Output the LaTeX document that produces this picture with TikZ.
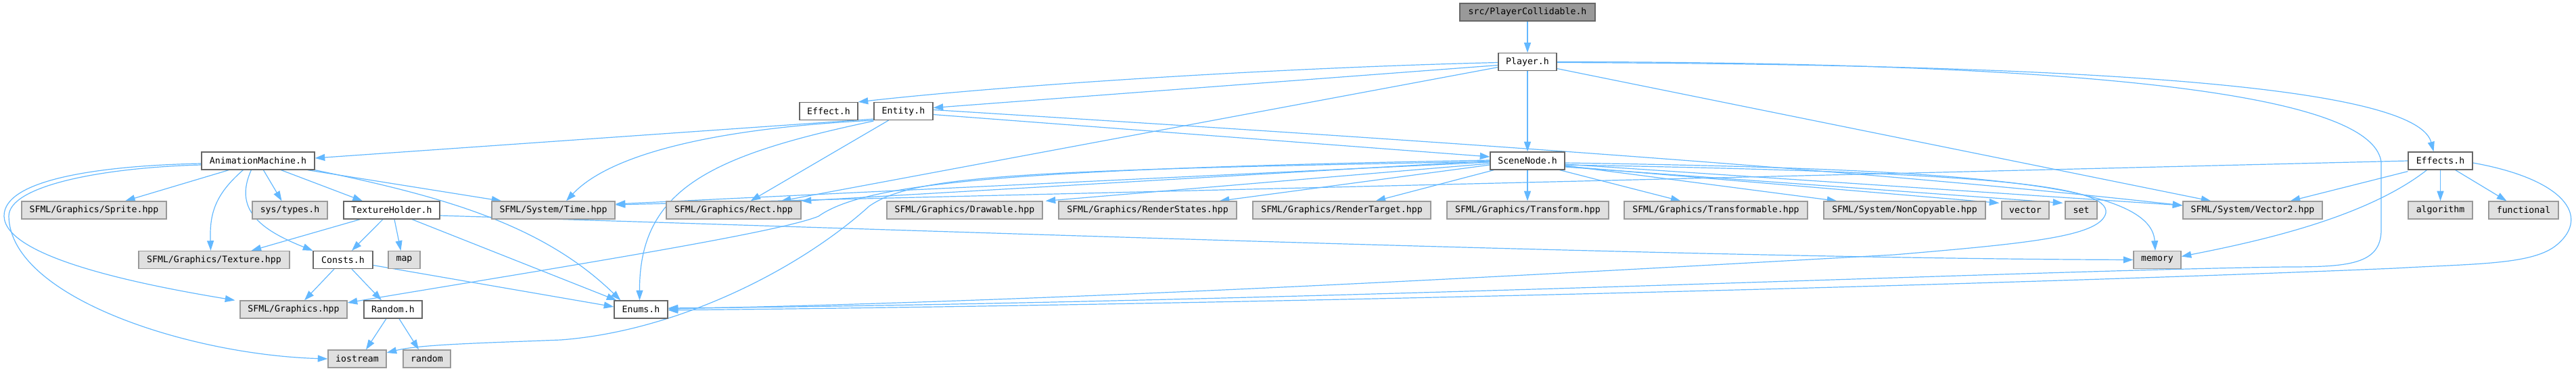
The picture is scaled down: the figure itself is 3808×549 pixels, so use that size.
\documentclass[tikz,border=0pt]{standalone}
\usepackage{fontspec}
\newfontfamily\dvm{DejaVu Sans Mono}
\usetikzlibrary{arrows.meta,calc}
\pgfdeclarelayer{background}
\pgfsetlayers{background,main}
\definecolor{edgec}{HTML}{63B8FF}
\definecolor{wborder}{HTML}{666666}
\definecolor{gfill}{HTML}{E0E0E0}
\definecolor{gborder}{HTML}{999999}
\definecolor{topfill}{HTML}{999999}
\begin{document}
\begin{tikzpicture}[x=0.75pt,y=-0.75pt,
  basebox/.style={rectangle, inner sep=0pt, minimum height=19.5pt, line width=0.9pt,
    font={\dvm\fontsize{9.9}{11}\selectfont}, text=black},
  wbox/.style={basebox, draw=wborder, fill=white},
  gbox/.style={basebox, draw=gborder, fill=gfill},
  topbox/.style={basebox, draw=wborder, fill=topfill},
  dep/.style={draw=edgec, line width=0.9pt, -{Triangle[length=11pt,width=7.5pt]}}]
\useasboundingbox (0,0) rectangle (3808,549);
% nodes
\node[topbox, minimum width=150pt] (pc) at (2258,18) {src/PlayerCollidable.h};
\node[wbox, minimum width=64.5pt] (player) at (2258,91.5) {Player.h};
\node[wbox, minimum width=64.5pt] (effect) at (1225,164.5) {Effect.h};
\node[wbox, minimum width=65.25pt] (entity) at (1335.5,164.5) {Entity.h};
\node[wbox, minimum width=125.25pt] (anim) at (381.5,238) {AnimationMachine.h};
\node[wbox, minimum width=82.5pt] (scenenode) at (2258,238) {SceneNode.h};
\node[wbox, minimum width=71.25pt] (effects) at (3607.5,238) {Effects.h};
\node[gbox, minimum width=160.5pt] (sprite) at (139,311) {SFML/Graphics/Sprite.hpp};
\node[gbox, minimum width=83.25pt] (systypes) at (428.5,311) {sys/types.h};
\node[wbox, minimum width=106.5pt] (texholder) at (579,311) {TextureHolder.h};
\node[gbox, minimum width=136.5pt] (time) at (818,311) {SFML/System/Time.hpp};
\node[gbox, minimum width=149.25pt] (rect) at (1084.5,311) {SFML/Graphics/Rect.hpp};
\node[gbox, minimum width=172.5pt] (drawable) at (1426,311) {SFML/Graphics/Drawable.hpp};
\node[gbox, minimum width=197.25pt] (renderstates) at (1696.5,311) {SFML/Graphics/RenderStates.hpp};
\node[gbox, minimum width=197.25pt] (rendertarget) at (1983.5,311) {SFML/Graphics/RenderTarget.hpp};
\node[gbox, minimum width=179.25pt] (transform) at (2258.5,311) {SFML/Graphics/Transform.hpp};
\node[gbox, minimum width=203.25pt] (transformable) at (2536.5,311) {SFML/Graphics/Transformable.hpp};
\node[gbox, minimum width=179.25pt] (noncopyable) at (2815.5,311) {SFML/System/NonCopyable.hpp};
\node[gbox, minimum width=52.5pt] (vector) at (2994,311) {vector};
\node[gbox, minimum width=35.25pt] (set) at (3076.5,311) {set};
\node[gbox, minimum width=154.5pt] (vector2) at (3330,311) {SFML/System/Vector2.hpp};
\node[gbox, minimum width=71.25pt] (algorithm) at (3607.5,311) {algorithm};
\node[gbox, minimum width=77.25pt] (functional) at (3730.5,311) {functional};
\node[gbox, minimum width=167.25pt] (texture) at (316.5,384.5) {SFML/Graphics/Texture.hpp};
\node[wbox, minimum width=66pt] (consts) at (507,384.5) {Consts.h};
\node[gbox, minimum width=35.25pt] (map) at (597.5,384.5) {map};
\node[gbox, minimum width=52.5pt] (memory) at (3189,384.5) {memory};
\node[gbox, minimum width=118.5pt] (graphics) at (434,458) {SFML/Graphics.hpp};
\node[wbox, minimum width=64.5pt] (randomh) at (581,458) {Random.h};
\node[wbox, minimum width=59.25pt] (enums) at (947.5,458) {Enums.h};
\node[gbox, minimum width=64.5pt] (iostream) at (528,531) {iostream};
\node[gbox, minimum width=52.5pt] (random) at (631,531) {random};
% edges
\begin{pgfonlayer}{background}
\draw[dep] (pc) -- (player);
% Player.h
\draw[dep] ($(player.west)+(0,1)$) .. controls (1900,100) and (1500,125) .. (effect.north east);
\draw[dep] ($(player.west)+(0,5)$) -- ($(entity.east)+(0,-5)$);
\draw[dep] ($(player.west)+(0,8)$) -- ($(rect.north east)+(-30,0)$);
\draw[dep] (player) -- (scenenode);
\draw[dep] ($(player.east)+(0,10)$) -- ($(vector2.north west)+(42,0)$);
\draw[dep] ($(player.east)+(0,1)$) .. controls (3000,95) and (3570,120) .. ($(effects.north)+(-10,0)$);
\draw[dep] ($(player.east)+(0,0)$) .. controls (3250,92) and (3510,160) .. (3520,240) -- (3520,340) .. controls (3520,392) and (3470,395) .. (3380,395) .. controls (3000,400) and (1900,448) .. ($(enums.east)+(0,-2)$);
% Entity.h
\draw[dep] ($(entity.south west)+(0,-2)$) -- ($(anim.east)+(0,-4)$);
\draw[dep] ($(entity.south west)+(0,0)$) .. controls (1050,190) and (900,230) .. ($(time.north)+(19,0)$);
\draw[dep] ($(entity.south)+(-22,0)$) -- ($(rect.north)+(25,0)$);
\draw[dep] ($(entity.south west)+(0,1)$) .. controls (1050,230) and (945,280) .. ($(enums.north)+(-2,0)$);
\draw[dep] ($(entity.east)+(0,5)$) -- ($(scenenode.west)+(0,-6)$);
\draw[dep] ($(entity.east)+(0,-2)$) .. controls (1900,195) and (2700,245) .. ($(vector2.west)+(0,-7)$);
% AnimationMachine.h
\draw[dep] ($(anim.south west)+(41,0)$) -- ($(sprite.north)+(46,0)$);
\draw[dep] ($(anim.south west)+(92,0)$) -- ($(systypes.north)+(-12,0)$);
\draw[dep] ($(anim.south west)+(118,0)$) -- ($(texholder.north)+(-43,0)$);
\draw[dep] ($(anim.south east)+(-11,0)$) -- ($(time.north west)+(15,0)$);
\draw[dep] (anim.south east) .. controls (650,290) and (800,330) .. ($(enums.north west)+(10,0)$);
\draw[dep] ($(anim.south west)+(62,0)$) .. controls (315,290) and (310,320) .. ($(texture.north)+(-5,0)$);
\draw[dep] ($(anim.south west)+(74,0)$) .. controls (345,310) and (385,340) .. (consts.north west);
\draw[dep] ($(anim.west)+(0,4)$) .. controls (150,245) and (5,265) .. (6,320) .. controls (8,380) and (200,420) .. ($(graphics.north west)+(-7,0)$);
\draw[dep] ($(anim.west)+(0,6)$) .. controls (150,248) and (13,275) .. (13,320) .. controls (15,440) and (280,525) .. (iostream.west);
% TextureHolder.h
\draw[dep] ($(texholder.south west)+(25,0)$) -- ($(texture.north)+(55,0)$);
\draw[dep] ($(texholder.south)+(-13,0)$) -- ($(consts.north)+(13,0)$);
\draw[dep] ($(texholder.south)+(4,0)$) -- ($(map.north)+(-5,0)$);
\draw[dep] ($(texholder.south)+(30,0)$) -- ($(enums.north west)+(4,0)$);
\draw[dep] ($(texholder.east)+(0,8)$) .. controls (1500,345) and (2500,382) .. (memory.west);
% Consts.h
\draw[dep] ($(consts.south)+(-13,0)$) -- ($(graphics.north)+(16,0)$);
\draw[dep] ($(consts.south)+(13,0)$) -- ($(randomh.north)+(-17,0)$);
\draw[dep] ($(consts.east)+(0,8)$) -- ($(enums.west)+(0,-4)$);
% Random.h
\draw[dep] ($(randomh.south)+(-10,0)$) -- ($(iostream.north)+(13,0)$);
\draw[dep] ($(randomh.south)+(9,0)$) -- ($(random.north)+(-12,0)$);
% SceneNode.h
\draw[dep] ($(scenenode.west)+(0,2)$) -- ($(time.east)+(0,-9)$);
\draw[dep] ($(scenenode.west)+(0,0)$) -- (rect.north east);
\draw[dep] ($(scenenode.west)+(0,4)$) -- ($(drawable.north east)+(4,0)$);
\draw[dep] ($(scenenode.west)+(0,6)$) -- ($(renderstates.north east)+(-26,0)$);
\draw[dep] ($(scenenode.south west)+(6,0)$) -- ($(rendertarget.north)+(50,0)$);
\draw[dep] (scenenode) -- ($(transform.north)+(-0.5,0)$);
\draw[dep] ($(scenenode.south east)+(-8,0)$) -- ($(transformable.north)+(-52,0)$);
\draw[dep] ($(scenenode.east)+(0,7)$) -- ($(noncopyable.north west)+(20,0)$);
\draw[dep] ($(scenenode.east)+(0,8)$) -- ($(vector.north west)+(-3,3)$);
\draw[dep] ($(scenenode.east)+(0,9)$) -- ($(set.north west)+(-3,3)$);
\draw[dep] ($(scenenode.east)+(0,5)$) -- ($(vector2.west)+(0,-7)$);
\draw[dep] ($(scenenode.east)+(0,3)$) .. controls (2900,250) and (3180,270) .. ($(memory.north)+(-3,0)$);
\draw[dep] ($(scenenode.east)+(0,6)$) .. controls (2950,255) and (3118,275) .. (3113,315) .. controls (3105,350) and (3000,360) .. (2800,377) .. controls (2300,405) and (1600,445) .. ($(enums.east)+(0,-1)$);
\draw[dep] ($(scenenode.west)+(0,-1)$) .. controls (1500,250) and (1280,270) .. (1210,320) .. controls (1150,345) and (800,400) .. ($(graphics.east)+(0,-10)$);
\draw[dep] ($(scenenode.west)+(0,1)$) .. controls (1500,252) and (1350,260) .. (1285,305) .. controls (1180,400) and (1000,490) .. (829,503) .. controls (700,508) and (620,510) .. ($(iostream.east)+(0,-9)$);
% Effects.h
\draw[dep] (effects.west) -- ($(time.east)+(0,-8)$);
\draw[dep] ($(effects.south west)+(0,2)$) -- ($(vector2.north east)+(-48,0)$);
\draw[dep] ($(effects.south)+(-20,0)$) .. controls (3500,320) and (3350,355) .. ($(memory.east)+(0,-5)$);
\draw[dep] (effects) -- (algorithm);
\draw[dep] ($(effects.south east)+(-26,0)$) -- ($(functional.north)+(-25,0)$);
\draw[dep] ($(effects.east)+(0,3)$) .. controls (3790,265) and (3830,320) .. (3780,362) .. controls (3745,392) and (3660,390) .. (3540,397) .. controls (3000,420) and (1900,450) .. ($(enums.east)+(0,1)$);
\end{pgfonlayer}
\end{tikzpicture}
\end{document}
